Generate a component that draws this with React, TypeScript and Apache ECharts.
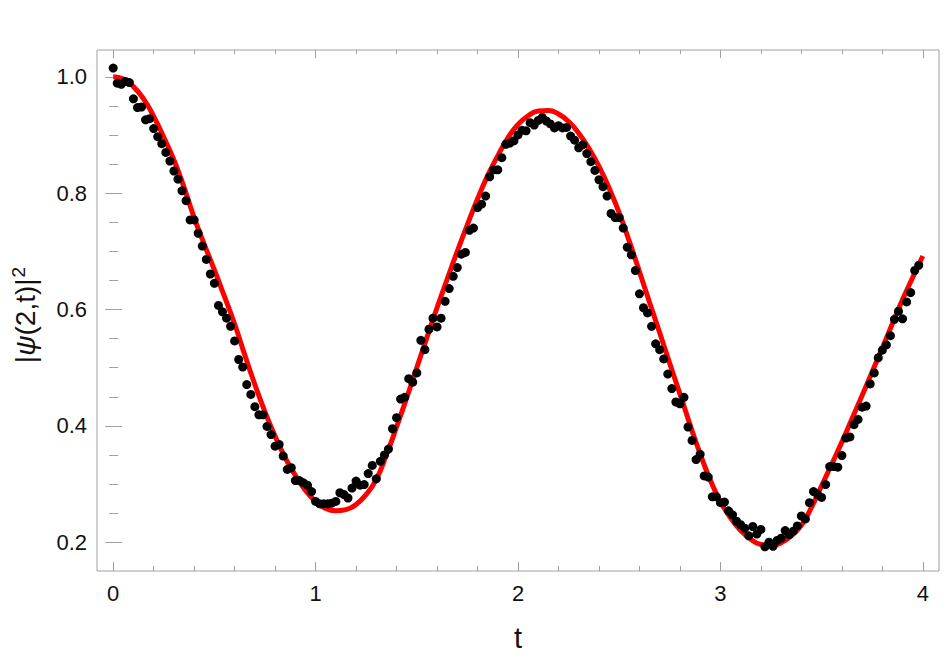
import React, { useEffect, useRef } from "react";
import * as echarts from "echarts";

// measured points |psi(2,t)|^2, sampled every 0.02 in t starting at t = 0
const T_STEP_DOTS = 0.02;
const dotValues = [
  1.015, 0.989, 0.987, 0.992, 0.990, 0.962, 0.947, 0.948, 0.926, 0.928,
  0.911, 0.897, 0.885, 0.870, 0.855, 0.838, 0.824, 0.804, 0.787, 0.754,
  0.754, 0.731, 0.709, 0.686, 0.661, 0.645, 0.607, 0.596, 0.585, 0.571,
  0.546, 0.514, 0.501, 0.471, 0.454, 0.433, 0.419, 0.419, 0.399, 0.385,
  0.365, 0.368, 0.348, 0.325, 0.328, 0.306, 0.306, 0.302, 0.298, 0.287,
  0.270, 0.266, 0.266, 0.266, 0.267, 0.270, 0.285, 0.282, 0.276, 0.293,
  0.305, 0.298, 0.299, 0.318, 0.332, 0.309, 0.339, 0.350, 0.360, 0.395,
  0.414, 0.446, 0.449, 0.481, 0.475, 0.491, 0.547, 0.531, 0.566, 0.585,
  0.570, 0.585, 0.614, 0.636, 0.657, 0.672, 0.695, 0.698, 0.736, 0.740,
  0.775, 0.781, 0.795, 0.828, 0.840, 0.840, 0.861, 0.884, 0.886, 0.890,
  0.900, 0.908, 0.907, 0.921, 0.917, 0.925, 0.930, 0.924, 0.919, 0.912,
  0.916, 0.912, 0.913, 0.898, 0.891, 0.878, 0.883, 0.868, 0.854, 0.839,
  0.823, 0.811, 0.795, 0.765, 0.758, 0.758, 0.740, 0.707, 0.694, 0.667,
  0.627, 0.603, 0.594, 0.571, 0.541, 0.531, 0.515, 0.489, 0.464, 0.441,
  0.438, 0.449, 0.398, 0.375, 0.342, 0.351, 0.314, 0.312, 0.278, 0.278,
  0.268, 0.269, 0.254, 0.247, 0.236, 0.230, 0.224, 0.211, 0.227, 0.214,
  0.222, 0.192, 0.200, 0.193, 0.203, 0.207, 0.220, 0.213, 0.219, 0.228,
  0.245, 0.240, 0.268, 0.287, 0.282, 0.277, 0.299, 0.330, 0.330, 0.329,
  0.349, 0.379, 0.381, 0.402, 0.411, 0.432, 0.434, 0.472, 0.491, 0.517,
  0.530, 0.539, 0.555, 0.583, 0.597, 0.584, 0.613, 0.629, 0.667, 0.676,
];

// theoretical curve, read every 0.05 in t starting at t = 0
const T_STEP_CURVE = 0.05;
const curveValues = [
  1.000, 0.996, 0.983, 0.962, 0.932, 0.896, 0.857, 0.810, 0.758, 0.712,
  0.668, 0.622, 0.575, 0.522, 0.471, 0.424, 0.382, 0.345, 0.315, 0.289,
  0.270, 0.258, 0.254, 0.256, 0.265, 0.282, 0.308, 0.350, 0.398, 0.448,
  0.500, 0.552, 0.603, 0.652, 0.700, 0.746, 0.790, 0.830, 0.864, 0.895,
  0.918, 0.933, 0.941, 0.942, 0.936, 0.923, 0.903, 0.877, 0.846, 0.809,
  0.766, 0.717, 0.665, 0.612, 0.560, 0.507, 0.455, 0.402, 0.352, 0.307,
  0.270, 0.242, 0.220, 0.205, 0.196, 0.194, 0.199, 0.211, 0.229, 0.260,
  0.297, 0.334, 0.372, 0.412, 0.452, 0.493, 0.534, 0.576, 0.617, 0.655,
  0.692,
];

const xMajorTicks = [0, 1, 2, 3, 4];
const xMinorTicks = [0.2, 0.4, 0.6, 0.8, 1.2, 1.4, 1.6, 1.8, 2.2, 2.4, 2.6, 2.8, 3.2, 3.4, 3.6, 3.8];
const yMajorTicks = [0.2, 0.4, 0.6, 0.8, 1.0];
const yMinorTicks = [0.25, 0.3, 0.35, 0.45, 0.5, 0.55, 0.65, 0.7, 0.75, 0.85, 0.9, 0.95];

const X_MIN = -0.08;
const X_MAX = 4.08;
const Y_MIN = 0.1505;
const Y_MAX = 1.046;

const FRAME = "#a0a0a0";
const FONT = "'Liberation Sans', Arial, sans-serif";

export default function App() {
  const ref = useRef<HTMLDivElement>(null);

  useEffect(() => {
    if (!ref.current) return;
    const chart = echarts.init(ref.current, undefined, { renderer: "svg" });

    const dots = dotValues.map((v, i) => [i * T_STEP_DOTS, v]);
    const curve = curveValues.map((v, i) => [i * T_STEP_CURVE, v]);

    const xAxisBase = (position: "bottom" | "top", ticks: number[], len: number, labels: boolean) => ({
      type: "value" as const,
      position,
      min: X_MIN,
      max: X_MAX,
      splitLine: { show: false },
      axisLine: { show: false },
      axisTick: {
        show: true,
        inside: true,
        length: len,
        customValues: ticks,
        lineStyle: { color: FRAME, width: 1 },
      },
      axisLabel: labels
        ? {
            show: true,
            customValues: ticks,
            margin: 11,
            fontSize: 22,
            fontFamily: FONT,
            color: "#111",
            formatter: (v: number) => String(Math.round(v)),
          }
        : { show: false },
    });

    const yAxisBase = (position: "left" | "right", ticks: number[], len: number, labels: boolean) => ({
      type: "value" as const,
      position,
      min: Y_MIN,
      max: Y_MAX,
      splitLine: { show: false },
      axisLine: { show: false },
      axisTick: {
        show: true,
        inside: true,
        length: len,
        customValues: ticks,
        lineStyle: { color: FRAME, width: 1 },
      },
      axisLabel: labels
        ? {
            show: true,
            customValues: ticks,
            margin: 10,
            fontSize: 22,
            fontFamily: FONT,
            color: "#111",
            formatter: (v: number) => v.toFixed(1),
          }
        : { show: false },
    });

    chart.setOption({
      animation: false,
      backgroundColor: "#ffffff",
      grid: {
        left: 97,
        top: 50,
        width: 842,
        height: 521,
        show: true,
        borderColor: FRAME,
        borderWidth: 1,
        backgroundColor: "transparent",
        containLabel: false,
      },
      xAxis: [
        xAxisBase("bottom", xMajorTicks, 9, true),
        xAxisBase("bottom", xMinorTicks, 5, false),
        xAxisBase("top", xMajorTicks, 8, false),
        xAxisBase("top", xMinorTicks, 4, false),
      ],
      yAxis: [
        yAxisBase("left", yMajorTicks, 9, true),
        yAxisBase("left", yMinorTicks, 5, false),
        yAxisBase("right", yMajorTicks, 8, false),
        yAxisBase("right", yMinorTicks, 4, false),
      ],
      series: [
        {
          type: "line",
          name: "theory",
          xAxisIndex: 0,
          yAxisIndex: 0,
          data: curve,
          smooth: 0.5,
          showSymbol: false,
          symbol: "none",
          lineStyle: { color: "#ff0000", width: 5 },
          z: 2,
        },
        {
          type: "scatter",
          name: "data",
          xAxisIndex: 0,
          yAxisIndex: 0,
          data: dots,
          symbol: "circle",
          symbolSize: 9,
          itemStyle: { color: "#000000", opacity: 1 },
          z: 3,
        },
      ],
      graphic: [
        {
          type: "text",
          x: 518,
          y: 638,
          style: {
            text: "t",
            fontSize: 29,
            fontFamily: FONT,
            fill: "#111",
            align: "center",
            verticalAlign: "middle",
          },
        },
        {
          type: "text",
          x: 25,
          y: 315,
          rotation: Math.PI / 2,
          style: {
            text: "|{i|ψ}(2,t)|{s|2}",
            fontSize: 28,
            fontFamily: FONT,
            fill: "#111",
            align: "center",
            verticalAlign: "middle",
            rich: {
              i: { fontSize: 28, fontStyle: "italic", fontFamily: FONT, fill: "#111" },
              s: { fontSize: 19, fontFamily: FONT, fill: "#111", verticalAlign: "top", padding: [0, 0, 13, 1] },
            },
          },
        },
      ],
    });

    return () => chart.dispose();
  }, []);

  return (
    <div
      ref={ref}
      style={{ position: "fixed", left: 0, top: 0, width: 947, height: 663, background: "#fff" }}
    />
  );
}
